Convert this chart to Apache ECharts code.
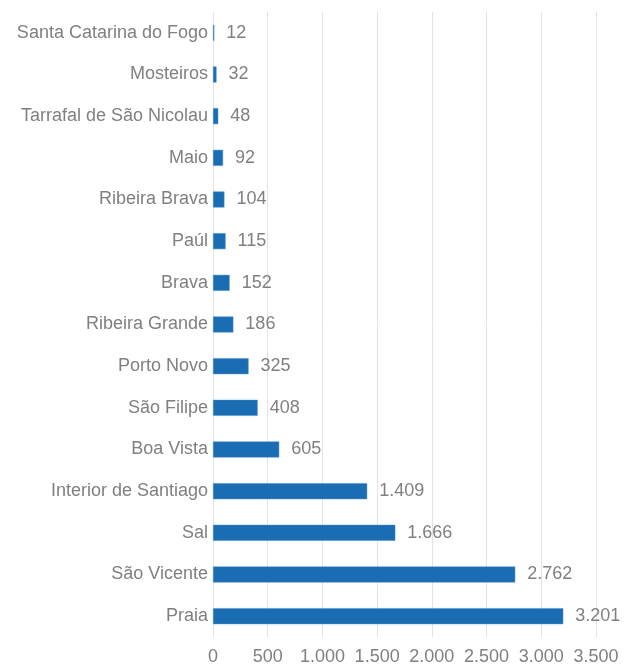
<!DOCTYPE html>
<html><head><meta charset="utf-8">
<script src="https://cdn.jsdelivr.net/npm/echarts@6/dist/echarts.min.js"></script>
<style>html,body{margin:0;padding:0;background:#fff}#c{width:630px;height:666px}</style>
</head><body><div id="c"></div>
<script>
const categories = ["Praia","São Vicente","Sal","Interior de Santiago","Boa Vista","São Filipe","Porto Novo","Ribeira Grande","Brava","Paúl","Ribeira Brava","Maio","Tarrafal de São Nicolau","Mosteiros","Santa Catarina do Fogo"];
const values = [3201,2762,1666,1409,605,408,325,186,152,115,104,92,48,32,12];
const xTicks = {min:0,max:3500,interval:500};
function fmt(v){return String(v).replace(/\B(?=(\d{3})+(?!\d))/g,'.');}
const chart = echarts.init(document.getElementById('c'));
chart.setOption({
  animation:false,
  textStyle:{fontFamily:'Liberation Sans, Arial, sans-serif'},
  grid:{left:213,right:34,top:12,bottom:26,containLabel:false},
  xAxis:{type:'value',min:xTicks.min,max:xTicks.max,interval:xTicks.interval,
    axisLine:{show:false},axisTick:{show:false},
    splitLine:{show:true,lineStyle:{color:'#dfe4ec',width:1}},
    axisLabel:{color:'#808080',fontSize:18,margin:11,formatter:fmt}},
  yAxis:{type:'category',data:categories,
    axisLine:{show:false},axisTick:{show:false},
    axisLabel:{color:'#808080',fontSize:18,margin:5}},
  series:[{type:'bar',data:values,barWidth:16,
    itemStyle:{color:'#1a6db3',borderColor:'#4f8fcc',borderWidth:0.5},
    label:{show:true,position:'right',distance:12,color:'#808080',fontSize:18,
      formatter:p=>fmt(p.value)}}]
});
</script></body></html>
